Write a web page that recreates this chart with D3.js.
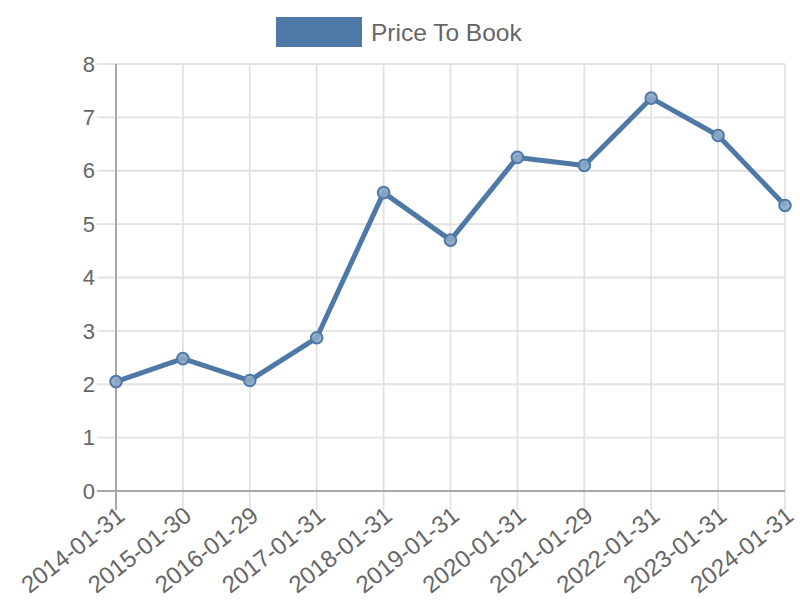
<!DOCTYPE html>
<html><head><meta charset="utf-8">
<script src="https://cdn.jsdelivr.net/npm/d3@7"></script>
<style>body{margin:0;background:#fff}svg{display:block}</style>
</head><body>
<svg id="c" width="800" height="600"></svg>
<script>
const categories = ["2014-01-31","2015-01-30","2016-01-29","2017-01-31","2018-01-31","2019-01-31","2020-01-31","2021-01-29","2022-01-31","2023-01-31","2024-01-31"];
const priceToBook = [2.05, 2.48, 2.07, 2.87, 5.59, 4.70, 6.25, 6.10, 7.36, 6.66, 5.35];
const yTicks = [0,1,2,3,4,5,6,7,8];
const seriesName = "Price To Book";

(function(){
const svg = d3.select("#c");
const font = "'Liberation Sans', Arial, Helvetica, sans-serif";
const pL = 116, pR = 785, pT = 64, pB = 491;
const color = "#4e79a7";
const tick = 19;

const x = d3.scalePoint().domain(categories).range([pL, pR]);
const y = d3.scaleLinear().domain([0, 8]).range([pB, pT]);

const g = svg.append("g");
g.selectAll(".vg").data(categories).enter().append("line")
  .attr("x1", d => x(d)).attr("x2", d => x(d))
  .attr("y1", pT).attr("y2", pB + tick)
  .attr("stroke", "#e2e2e2").attr("stroke-width", 1.8);
g.selectAll(".hg").data(yTicks).enter().append("line")
  .attr("x1", pL - tick).attr("x2", pR)
  .attr("y1", d => y(d)).attr("y2", d => y(d))
  .attr("stroke", "#e2e2e2").attr("stroke-width", 1.8);

svg.append("line").attr("x1", pL).attr("x2", pL).attr("y1", pT).attr("y2", pB + tick)
  .attr("stroke", "#a8a8a8").attr("stroke-width", 2);
svg.append("line").attr("x1", pL - tick).attr("x2", pR).attr("y1", pB).attr("y2", pB)
  .attr("stroke", "#a8a8a8").attr("stroke-width", 2);

svg.selectAll(".yl").data(yTicks).enter().append("text")
  .attr("x", pL - tick - 2).attr("y", d => y(d)).attr("dy", "0.35em")
  .attr("text-anchor", "end").attr("font-family", font).attr("font-size", 22)
  .attr("fill", "#666").text(d => d);

svg.selectAll(".xl").data(categories).enter().append("text")
  .attr("transform", d => `translate(${x(d) + 5},${pB + tick + 2}) rotate(-38)`)
  .attr("text-anchor", "end").attr("dy", "0.35em")
  .attr("font-family", font).attr("font-size", 24)
  .attr("fill", "#666").text(d => d);

const line = d3.line().x((d, i) => x(categories[i])).y(d => y(d));
svg.append("path").datum(priceToBook).attr("d", line)
  .attr("fill", "none").attr("stroke", color).attr("stroke-width", 5)
  .attr("stroke-linejoin", "round");
svg.selectAll(".pt").data(priceToBook).enter().append("circle")
  .attr("cx", (d, i) => x(categories[i])).attr("cy", d => y(d)).attr("r", 5.8)
  .attr("fill", "rgba(140,168,200,0.9)").attr("stroke", color).attr("stroke-width", 2);

svg.append("rect").attr("x", 276).attr("y", 17).attr("width", 86).attr("height", 30)
  .attr("fill", color);
svg.append("text").attr("x", 371).attr("y", 32).attr("dy", "0.35em")
  .attr("font-family", font).attr("font-size", 24.5).attr("fill", "#666").text(seriesName);
})();
</script>
</body></html>
